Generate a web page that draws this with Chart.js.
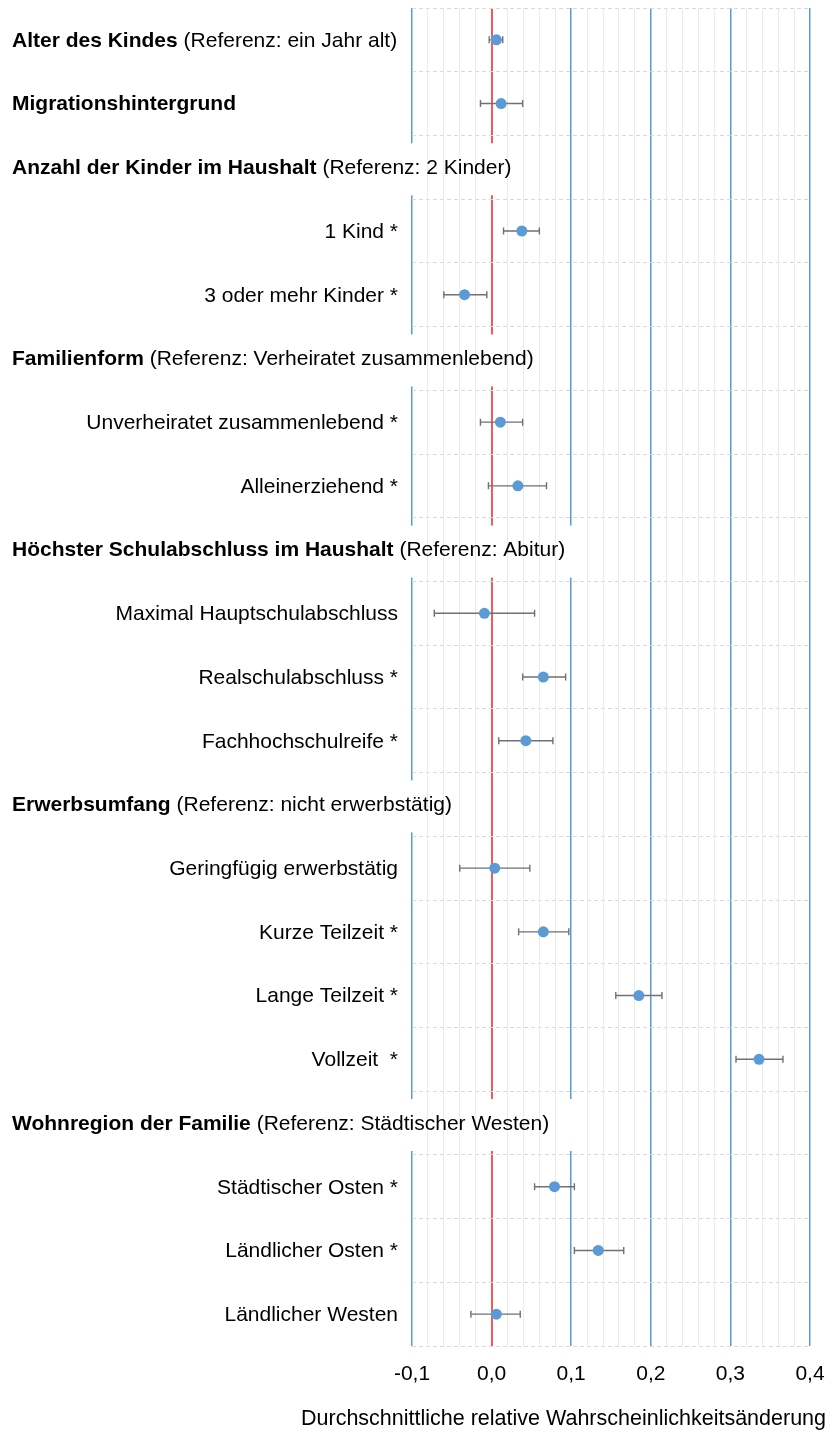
<!DOCTYPE html>
<html>
<head>
<meta charset="utf-8">
<script src="https://cdn.jsdelivr.net/npm/chart.js@4"></script>
<style>
html,body{margin:0;padding:0;background:#fff;}
canvas{display:block;}
</style>
</head>
<body>
<canvas id="c" width="831" height="1433"></canvas>
<script>
// ---- data ----
const rowLabels = [
  'Alter des Kindes', 'Migrationshintergrund',
  'Anzahl der Kinder im Haushalt', '1 Kind *', '3 oder mehr Kinder *',
  'Familienform', 'Unverheiratet zusammenlebend *', 'Alleinerziehend *',
  'Höchster Schulabschluss im Haushalt', 'Maximal Hauptschulabschluss', 'Realschulabschluss *', 'Fachhochschulreife *',
  'Erwerbsumfang', 'Geringfügig erwerbstätig', 'Kurze Teilzeit *', 'Lange Teilzeit *', 'Vollzeit  *',
  'Wohnregion der Familie', 'Städtischer Osten *', 'Ländlicher Osten *', 'Ländlicher Westen'
];
const rowNotes = [
  '(Referenz: ein Jahr alt)', '',
  '(Referenz: 2 Kinder)', '', '',
  '(Referenz: Verheiratet zusammenlebend)', '', '',
  '(Referenz: Abitur)', '', '', '',
  '(Referenz: nicht erwerbstätig)', '', '', '', '',
  '(Referenz: Städtischer Westen)', '', '', ''
];
// 'var' = bold variable with estimate, 'group' = heading, 'item' = category with estimate
const rowKinds = [
  'var', 'var',
  'group', 'item', 'item',
  'group', 'item', 'item',
  'group', 'item', 'item', 'item',
  'group', 'item', 'item', 'item', 'item',
  'group', 'item', 'item', 'item'
];
const estimates = [0.006, 0.012, null, 0.038, -0.034, null, 0.011, 0.033, null, -0.009, 0.065, 0.043, null, 0.004, 0.065, 0.185, 0.336, null, 0.079, 0.134, 0.006];
const lowerCI   = [-0.003, -0.014, null, 0.015, -0.060, null, -0.014, -0.004, null, -0.072, 0.039, 0.009, null, -0.040, 0.034, 0.156, 0.307, null, 0.054, 0.104, -0.026];
const upperCI   = [0.014, 0.039, null, 0.060, -0.006, null, 0.039, 0.069, null, 0.054, 0.093, 0.077, null, 0.048, 0.097, 0.214, 0.366, null, 0.104, 0.166, 0.036];
const xTitle = 'Durchschnittliche relative Wahrscheinlichkeitsänderung';
const xMin = -0.1, xMax = 0.4;

// ---- styles ----
const FAM = "'Liberation Sans', Arial, sans-serif";
const FS = 21;
const BLUE = '#5b9bd5';
const RED = '#f25a5c';
const isMajor = v => Math.abs(v * 10 - Math.round(v * 10)) < 1e-6;

const points = [];
estimates.forEach((v, i) => { if (v !== null) points.push({x: v, y: i + 0.5, lo: lowerCI[i], hi: upperCI[i]}); });

const forestPlugin = {
  id: 'forest',
  beforeDatasetsDraw(chart) {
    const {ctx, chartArea, scales} = chart;
    const x = scales.x, y = scales.y;
    ctx.save();
    // heading boxes (cover major lines)
    rowKinds.forEach((k, i) => {
      if (k !== 'group') return;
      const cy = y.getPixelForValue(i + 0.5);
      ctx.font = 'bold ' + FS + 'px ' + FAM;
      let w = ctx.measureText(rowLabels[i]).width;
      ctx.font = FS + 'px ' + FAM;
      w += ctx.measureText(' ' + rowNotes[i]).width;
      ctx.fillStyle = '#fff';
      ctx.fillRect(0, cy - 24, 12 + w + 26, 52);
    });
    ctx.restore();
    // minor grid lines on top of heading boxes
    scales.xm.drawGrid(chartArea);
    ctx.save();
    // labels
    ctx.textBaseline = 'middle';
    ctx.fillStyle = '#000';
    rowKinds.forEach((k, i) => {
      const cy = y.getPixelForValue(i + 0.5) + 1;
      if (k === 'item') {
        ctx.font = FS + 'px ' + FAM;
        ctx.textAlign = 'right';
        ctx.fillText(rowLabels[i], chartArea.left - 14, cy);
      } else {
        ctx.textAlign = 'left';
        ctx.font = 'bold ' + FS + 'px ' + FAM;
        ctx.fillText(rowLabels[i], 12, cy);
        const w = ctx.measureText(rowLabels[i]).width;
        if (rowNotes[i]) {
          ctx.font = FS + 'px ' + FAM;
          ctx.fillText(' ' + rowNotes[i], 12 + w, cy);
        }
      }
    });
    // error bars
    ctx.strokeStyle = '#707070';
    ctx.lineWidth = 1.4;
    points.forEach(p => {
      const py = y.getPixelForValue(p.y);
      const x1 = x.getPixelForValue(p.lo), x2 = x.getPixelForValue(p.hi);
      ctx.beginPath();
      ctx.moveTo(x1, py); ctx.lineTo(x2, py);
      ctx.moveTo(x1, py - 3.5); ctx.lineTo(x1, py + 3.5);
      ctx.moveTo(x2, py - 3.5); ctx.lineTo(x2, py + 3.5);
      ctx.stroke();
    });
    ctx.restore();
  },
  afterDraw(chart) {
    const ctx = chart.ctx;
    ctx.save();
    ctx.font = '21.5px ' + FAM;
    ctx.fillStyle = '#000';
    ctx.textAlign = 'right';
    ctx.textBaseline = 'middle';
    ctx.fillText(xTitle, 826, 1419);
    ctx.restore();
  }
};

new Chart(document.getElementById('c'), {
  type: 'scatter',
  data: {
    datasets: [{
      data: points,
      xAxisID: 'x',
      yAxisID: 'y',
      backgroundColor: BLUE,
      borderColor: BLUE,
      pointRadius: 5.5,
      pointBorderWidth: 0
    }]
  },
  options: {
    responsive: false,
    animation: false,
    devicePixelRatio: 1,
    layout: {padding: {top: 8, right: 21, bottom: 0, left: 0}},
    plugins: {legend: {display: false}, tooltip: {enabled: false}},
    scales: {
      xm: {
        type: 'linear', position: 'bottom', min: xMin, max: xMax,
        ticks: {display: false, stepSize: 0.02},
        grid: {color: c => isMajor(c.tick.value) ? 'rgba(0,0,0,0)' : '#ebebeb', lineWidth: 1, drawTicks: false},
        border: {display: false},
        afterFit: s => { s.height = 0; }
      },
      x: {
        type: 'linear', position: 'bottom', min: xMin, max: xMax,
        ticks: {
          stepSize: 0.1, autoSkip: false, maxRotation: 0, padding: 0,
          color: '#000', font: {size: FS, family: FAM},
          callback: v => (Math.abs(v) < 1e-9 ? 0 : v).toFixed(1).replace('.', ',')
        },
        grid: {
          color: c => Math.abs(c.tick.value) < 1e-9 ? RED : BLUE,
          lineWidth: c => Math.abs(c.tick.value) < 1e-9 ? 2 : 1.5,
          drawTicks: true, tickLength: 16, tickColor: 'rgba(0,0,0,0)'
        },
        border: {display: false},
        afterFit: s => { s.height = 87; }
      },
      y: {
        type: 'linear', position: 'left', reverse: true, min: 0, max: rowLabels.length,
        ticks: {display: false, stepSize: 1},
        grid: {color: '#d9d9d9', lineWidth: 1, drawTicks: false},
        border: {display: false, dash: [4, 3]},
        afterFit: s => { s.width = 412; }
      }
    }
  },
  plugins: [forestPlugin]
});
</script>
</body>
</html>
